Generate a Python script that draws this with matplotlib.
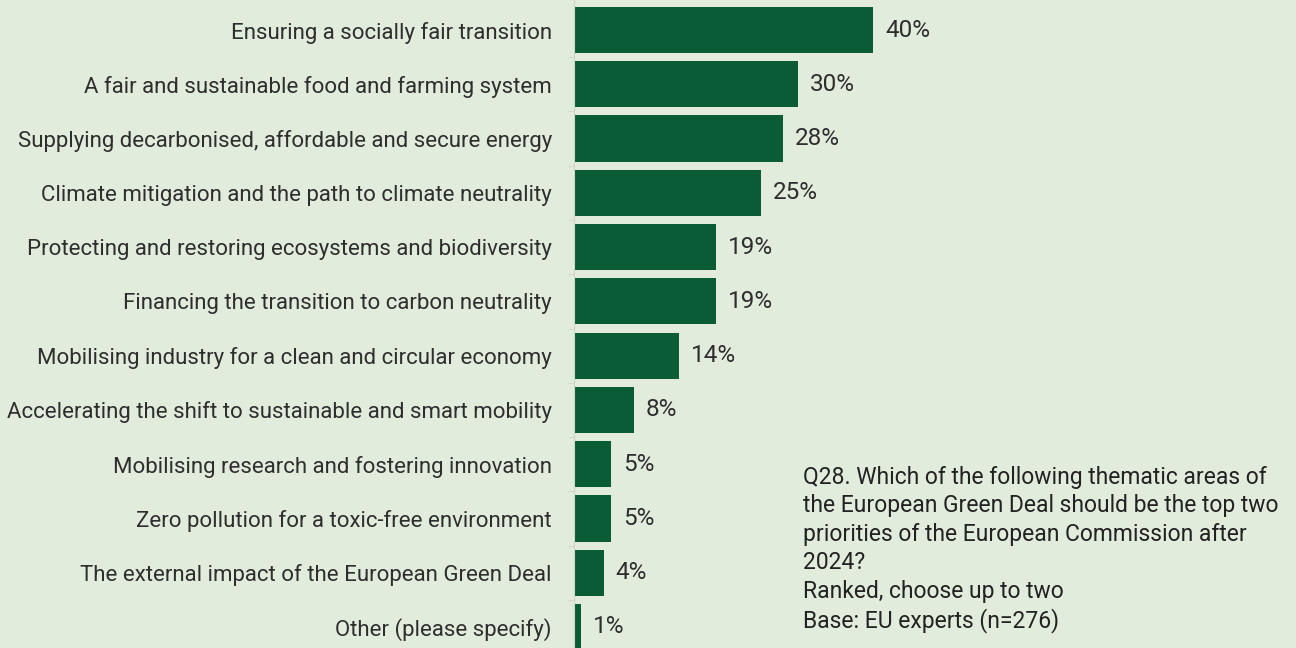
import matplotlib.pyplot as plt
import numpy as np

categories = [
    "Ensuring a socially fair transition",
    "A fair and sustainable food and farming system",
    "Supplying decarbonised, affordable and secure energy",
    "Climate mitigation and the path to climate neutrality",
    "Protecting and restoring ecosystems and biodiversity",
    "Financing the transition to carbon neutrality",
    "Mobilising industry for a clean and circular economy",
    "Accelerating the shift to sustainable and smart mobility",
    "Mobilising research and fostering innovation",
    "Zero pollution for a toxic-free environment",
    "The external impact of the European Green Deal",
    "Other (please specify)",
]
values = [40, 30, 28, 25, 19, 19, 14, 8, 5, 5, 4, 1]

note = ("Q28. Which of the following thematic areas of\n"
        "the European Green Deal should be the top two\n"
        "priorities of the European Commission after\n"
        "2024?\n"
        "Ranked, choose up to two\n"
        "Base: EU experts (n=276)")

bg = "#e2ecdc"
bar_color = "#0a5c36"
text_color = "#2e2e2e"

plt.rcParams['font.family'] = ['Roboto', 'DejaVu Sans']

W, H = 1296, 648
fig = plt.figure(figsize=(W / 100, H / 100), dpi=100, facecolor=bg)
ax = fig.add_axes([574 / W, 0, 1 - 574 / W, 1])
ax.set_facecolor(bg)

y = np.arange(len(categories))
ax.barh(y, values, height=0.85, color=bar_color)

for yi, v in zip(y, values):
    ax.text(v + 1.6, yi, f"{v}%", va='center', ha='left', fontsize=17.5, color=text_color)

ax.set_xlim(0, (W - 574) / 7.475)
ax.set_ylim(11.387, -0.553)
ax.set_yticks(y)
ax.set_yticklabels(categories, fontsize=16, color=text_color)
ax.tick_params(axis='y', length=0, pad=16)
ax.set_yticks(y[:-1] + 0.5, minor=True)
ax.tick_params(axis='y', which='minor', length=4, color="#cdd6c8")
ax.set_xticks([])
for s in ['top', 'right', 'bottom']:
    ax.spines[s].set_visible(False)
ax.spines['left'].set_color("#cdd6c8")

fig.text(803 / W, 1 - 466 / H, note, ha='left', va='top', fontsize=16.5,
         color="#222222", linespacing=1.3)

fig.savefig("out.png", dpi=100, facecolor=bg)
